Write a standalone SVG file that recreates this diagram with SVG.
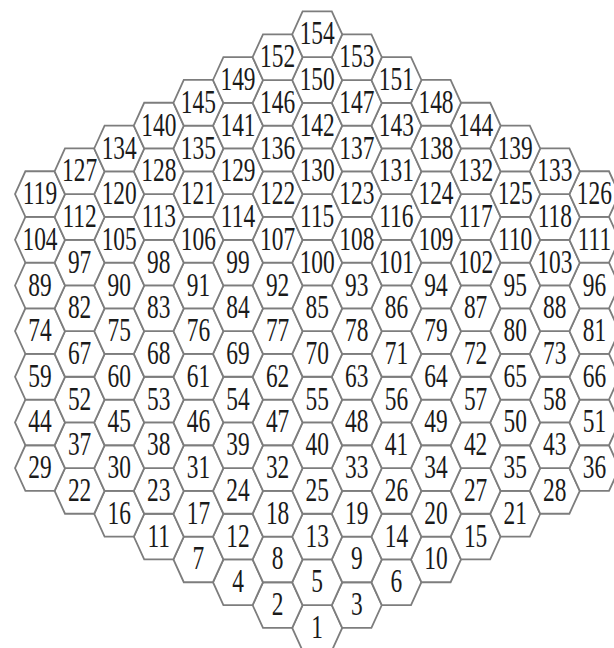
<svg xmlns="http://www.w3.org/2000/svg" xmlns:xlink="http://www.w3.org/1999/xlink" width="614" height="648" viewBox="0 0 614 648">
<style>
.hx{fill:#fff;stroke:#7d7d7d;stroke-width:1.8;stroke-linejoin:miter}
text{font-family:"Liberation Serif","Times New Roman",serif;font-size:33px;fill:#1a1a1a;text-anchor:middle;transform:scale(0.71,1)}
</style>
<defs>
<polygon id="hx" class="hx" points="-25,0 -14.6,-22.83 14.6,-22.83 25,0 14.6,22.83 -14.6,22.83"/>
</defs>
<rect width="614" height="648" fill="#fff"/>
<g id="nodes">
<g id="n1" transform="translate(317.2 627.9)"><use href="#hx"/><text y="10">1</text></g>
<g id="n2" transform="translate(277.6 605.1)"><use href="#hx"/><text y="10">2</text></g>
<g id="n3" transform="translate(356.8 605.1)"><use href="#hx"/><text y="10">3</text></g>
<g id="n4" transform="translate(238 582.2)"><use href="#hx"/><text y="10">4</text></g>
<g id="n5" transform="translate(317.2 582.2)"><use href="#hx"/><text y="10">5</text></g>
<g id="n6" transform="translate(396.4 582.2)"><use href="#hx"/><text y="10">6</text></g>
<g id="n7" transform="translate(198.4 559.4)"><use href="#hx"/><text y="10">7</text></g>
<g id="n8" transform="translate(277.6 559.4)"><use href="#hx"/><text y="10">8</text></g>
<g id="n9" transform="translate(356.8 559.4)"><use href="#hx"/><text y="10">9</text></g>
<g id="n10" transform="translate(436 559.4)"><use href="#hx"/><text y="10">10</text></g>
<g id="n11" transform="translate(158.8 536.6)"><use href="#hx"/><text y="10">11</text></g>
<g id="n12" transform="translate(238 536.6)"><use href="#hx"/><text y="10">12</text></g>
<g id="n13" transform="translate(317.2 536.6)"><use href="#hx"/><text y="10">13</text></g>
<g id="n14" transform="translate(396.4 536.6)"><use href="#hx"/><text y="10">14</text></g>
<g id="n15" transform="translate(475.6 536.6)"><use href="#hx"/><text y="10">15</text></g>
<g id="n16" transform="translate(119.2 513.8)"><use href="#hx"/><text y="10">16</text></g>
<g id="n17" transform="translate(198.4 513.8)"><use href="#hx"/><text y="10">17</text></g>
<g id="n18" transform="translate(277.6 513.8)"><use href="#hx"/><text y="10">18</text></g>
<g id="n19" transform="translate(356.8 513.8)"><use href="#hx"/><text y="10">19</text></g>
<g id="n20" transform="translate(436 513.8)"><use href="#hx"/><text y="10">20</text></g>
<g id="n21" transform="translate(515.2 513.8)"><use href="#hx"/><text y="10">21</text></g>
<g id="n22" transform="translate(79.6 490.9)"><use href="#hx"/><text y="10">22</text></g>
<g id="n23" transform="translate(158.8 490.9)"><use href="#hx"/><text y="10">23</text></g>
<g id="n24" transform="translate(238 490.9)"><use href="#hx"/><text y="10">24</text></g>
<g id="n25" transform="translate(317.2 490.9)"><use href="#hx"/><text y="10">25</text></g>
<g id="n26" transform="translate(396.4 490.9)"><use href="#hx"/><text y="10">26</text></g>
<g id="n27" transform="translate(475.6 490.9)"><use href="#hx"/><text y="10">27</text></g>
<g id="n28" transform="translate(554.8 490.9)"><use href="#hx"/><text y="10">28</text></g>
<g id="n29" transform="translate(40 468.1)"><use href="#hx"/><text y="10">29</text></g>
<g id="n30" transform="translate(119.2 468.1)"><use href="#hx"/><text y="10">30</text></g>
<g id="n31" transform="translate(198.4 468.1)"><use href="#hx"/><text y="10">31</text></g>
<g id="n32" transform="translate(277.6 468.1)"><use href="#hx"/><text y="10">32</text></g>
<g id="n33" transform="translate(356.8 468.1)"><use href="#hx"/><text y="10">33</text></g>
<g id="n34" transform="translate(436 468.1)"><use href="#hx"/><text y="10">34</text></g>
<g id="n35" transform="translate(515.2 468.1)"><use href="#hx"/><text y="10">35</text></g>
<g id="n36" transform="translate(594.4 468.1)"><use href="#hx"/><text y="10">36</text></g>
<g id="n37" transform="translate(79.6 445.3)"><use href="#hx"/><text y="10">37</text></g>
<g id="n38" transform="translate(158.8 445.3)"><use href="#hx"/><text y="10">38</text></g>
<g id="n39" transform="translate(238 445.3)"><use href="#hx"/><text y="10">39</text></g>
<g id="n40" transform="translate(317.2 445.3)"><use href="#hx"/><text y="10">40</text></g>
<g id="n41" transform="translate(396.4 445.3)"><use href="#hx"/><text y="10">41</text></g>
<g id="n42" transform="translate(475.6 445.3)"><use href="#hx"/><text y="10">42</text></g>
<g id="n43" transform="translate(554.8 445.3)"><use href="#hx"/><text y="10">43</text></g>
<g id="n44" transform="translate(40 422.4)"><use href="#hx"/><text y="10">44</text></g>
<g id="n45" transform="translate(119.2 422.4)"><use href="#hx"/><text y="10">45</text></g>
<g id="n46" transform="translate(198.4 422.4)"><use href="#hx"/><text y="10">46</text></g>
<g id="n47" transform="translate(277.6 422.4)"><use href="#hx"/><text y="10">47</text></g>
<g id="n48" transform="translate(356.8 422.4)"><use href="#hx"/><text y="10">48</text></g>
<g id="n49" transform="translate(436 422.4)"><use href="#hx"/><text y="10">49</text></g>
<g id="n50" transform="translate(515.2 422.4)"><use href="#hx"/><text y="10">50</text></g>
<g id="n51" transform="translate(594.4 422.4)"><use href="#hx"/><text y="10">51</text></g>
<g id="n52" transform="translate(79.6 399.6)"><use href="#hx"/><text y="10">52</text></g>
<g id="n53" transform="translate(158.8 399.6)"><use href="#hx"/><text y="10">53</text></g>
<g id="n54" transform="translate(238 399.6)"><use href="#hx"/><text y="10">54</text></g>
<g id="n55" transform="translate(317.2 399.6)"><use href="#hx"/><text y="10">55</text></g>
<g id="n56" transform="translate(396.4 399.6)"><use href="#hx"/><text y="10">56</text></g>
<g id="n57" transform="translate(475.6 399.6)"><use href="#hx"/><text y="10">57</text></g>
<g id="n58" transform="translate(554.8 399.6)"><use href="#hx"/><text y="10">58</text></g>
<g id="n59" transform="translate(40 376.8)"><use href="#hx"/><text y="10">59</text></g>
<g id="n60" transform="translate(119.2 376.8)"><use href="#hx"/><text y="10">60</text></g>
<g id="n61" transform="translate(198.4 376.8)"><use href="#hx"/><text y="10">61</text></g>
<g id="n62" transform="translate(277.6 376.8)"><use href="#hx"/><text y="10">62</text></g>
<g id="n63" transform="translate(356.8 376.8)"><use href="#hx"/><text y="10">63</text></g>
<g id="n64" transform="translate(436 376.8)"><use href="#hx"/><text y="10">64</text></g>
<g id="n65" transform="translate(515.2 376.8)"><use href="#hx"/><text y="10">65</text></g>
<g id="n66" transform="translate(594.4 376.8)"><use href="#hx"/><text y="10">66</text></g>
<g id="n67" transform="translate(79.6 353.9)"><use href="#hx"/><text y="10">67</text></g>
<g id="n68" transform="translate(158.8 353.9)"><use href="#hx"/><text y="10">68</text></g>
<g id="n69" transform="translate(238 353.9)"><use href="#hx"/><text y="10">69</text></g>
<g id="n70" transform="translate(317.2 353.9)"><use href="#hx"/><text y="10">70</text></g>
<g id="n71" transform="translate(396.4 353.9)"><use href="#hx"/><text y="10">71</text></g>
<g id="n72" transform="translate(475.6 353.9)"><use href="#hx"/><text y="10">72</text></g>
<g id="n73" transform="translate(554.8 353.9)"><use href="#hx"/><text y="10">73</text></g>
<g id="n74" transform="translate(40 331.1)"><use href="#hx"/><text y="10">74</text></g>
<g id="n75" transform="translate(119.2 331.1)"><use href="#hx"/><text y="10">75</text></g>
<g id="n76" transform="translate(198.4 331.1)"><use href="#hx"/><text y="10">76</text></g>
<g id="n77" transform="translate(277.6 331.1)"><use href="#hx"/><text y="10">77</text></g>
<g id="n78" transform="translate(356.8 331.1)"><use href="#hx"/><text y="10">78</text></g>
<g id="n79" transform="translate(436 331.1)"><use href="#hx"/><text y="10">79</text></g>
<g id="n80" transform="translate(515.2 331.1)"><use href="#hx"/><text y="10">80</text></g>
<g id="n81" transform="translate(594.4 331.1)"><use href="#hx"/><text y="10">81</text></g>
<g id="n82" transform="translate(79.6 308.3)"><use href="#hx"/><text y="10">82</text></g>
<g id="n83" transform="translate(158.8 308.3)"><use href="#hx"/><text y="10">83</text></g>
<g id="n84" transform="translate(238 308.3)"><use href="#hx"/><text y="10">84</text></g>
<g id="n85" transform="translate(317.2 308.3)"><use href="#hx"/><text y="10">85</text></g>
<g id="n86" transform="translate(396.4 308.3)"><use href="#hx"/><text y="10">86</text></g>
<g id="n87" transform="translate(475.6 308.3)"><use href="#hx"/><text y="10">87</text></g>
<g id="n88" transform="translate(554.8 308.3)"><use href="#hx"/><text y="10">88</text></g>
<g id="n89" transform="translate(40 285.5)"><use href="#hx"/><text y="10">89</text></g>
<g id="n90" transform="translate(119.2 285.5)"><use href="#hx"/><text y="10">90</text></g>
<g id="n91" transform="translate(198.4 285.5)"><use href="#hx"/><text y="10">91</text></g>
<g id="n92" transform="translate(277.6 285.5)"><use href="#hx"/><text y="10">92</text></g>
<g id="n93" transform="translate(356.8 285.5)"><use href="#hx"/><text y="10">93</text></g>
<g id="n94" transform="translate(436 285.5)"><use href="#hx"/><text y="10">94</text></g>
<g id="n95" transform="translate(515.2 285.5)"><use href="#hx"/><text y="10">95</text></g>
<g id="n96" transform="translate(594.4 285.5)"><use href="#hx"/><text y="10">96</text></g>
<g id="n97" transform="translate(79.6 262.6)"><use href="#hx"/><text y="10">97</text></g>
<g id="n98" transform="translate(158.8 262.6)"><use href="#hx"/><text y="10">98</text></g>
<g id="n99" transform="translate(238 262.6)"><use href="#hx"/><text y="10">99</text></g>
<g id="n100" transform="translate(317.2 262.6)"><use href="#hx"/><text y="10">100</text></g>
<g id="n101" transform="translate(396.4 262.6)"><use href="#hx"/><text y="10">101</text></g>
<g id="n102" transform="translate(475.6 262.6)"><use href="#hx"/><text y="10">102</text></g>
<g id="n103" transform="translate(554.8 262.6)"><use href="#hx"/><text y="10">103</text></g>
<g id="n104" transform="translate(40 239.8)"><use href="#hx"/><text y="10">104</text></g>
<g id="n105" transform="translate(119.2 239.8)"><use href="#hx"/><text y="10">105</text></g>
<g id="n106" transform="translate(198.4 239.8)"><use href="#hx"/><text y="10">106</text></g>
<g id="n107" transform="translate(277.6 239.8)"><use href="#hx"/><text y="10">107</text></g>
<g id="n108" transform="translate(356.8 239.8)"><use href="#hx"/><text y="10">108</text></g>
<g id="n109" transform="translate(436 239.8)"><use href="#hx"/><text y="10">109</text></g>
<g id="n110" transform="translate(515.2 239.8)"><use href="#hx"/><text y="10">110</text></g>
<g id="n111" transform="translate(594.4 239.8)"><use href="#hx"/><text y="10">111</text></g>
<g id="n112" transform="translate(79.6 217)"><use href="#hx"/><text y="10">112</text></g>
<g id="n113" transform="translate(158.8 217)"><use href="#hx"/><text y="10">113</text></g>
<g id="n114" transform="translate(238 217)"><use href="#hx"/><text y="10">114</text></g>
<g id="n115" transform="translate(317.2 217)"><use href="#hx"/><text y="10">115</text></g>
<g id="n116" transform="translate(396.4 217)"><use href="#hx"/><text y="10">116</text></g>
<g id="n117" transform="translate(475.6 217)"><use href="#hx"/><text y="10">117</text></g>
<g id="n118" transform="translate(554.8 217)"><use href="#hx"/><text y="10">118</text></g>
<g id="n119" transform="translate(40 194.1)"><use href="#hx"/><text y="10">119</text></g>
<g id="n120" transform="translate(119.2 194.1)"><use href="#hx"/><text y="10">120</text></g>
<g id="n121" transform="translate(198.4 194.1)"><use href="#hx"/><text y="10">121</text></g>
<g id="n122" transform="translate(277.6 194.1)"><use href="#hx"/><text y="10">122</text></g>
<g id="n123" transform="translate(356.8 194.1)"><use href="#hx"/><text y="10">123</text></g>
<g id="n124" transform="translate(436 194.1)"><use href="#hx"/><text y="10">124</text></g>
<g id="n125" transform="translate(515.2 194.1)"><use href="#hx"/><text y="10">125</text></g>
<g id="n126" transform="translate(594.4 194.1)"><use href="#hx"/><text y="10">126</text></g>
<g id="n127" transform="translate(79.6 171.3)"><use href="#hx"/><text y="10">127</text></g>
<g id="n128" transform="translate(158.8 171.3)"><use href="#hx"/><text y="10">128</text></g>
<g id="n129" transform="translate(238 171.3)"><use href="#hx"/><text y="10">129</text></g>
<g id="n130" transform="translate(317.2 171.3)"><use href="#hx"/><text y="10">130</text></g>
<g id="n131" transform="translate(396.4 171.3)"><use href="#hx"/><text y="10">131</text></g>
<g id="n132" transform="translate(475.6 171.3)"><use href="#hx"/><text y="10">132</text></g>
<g id="n133" transform="translate(554.8 171.3)"><use href="#hx"/><text y="10">133</text></g>
<g id="n134" transform="translate(119.2 148.5)"><use href="#hx"/><text y="10">134</text></g>
<g id="n135" transform="translate(198.4 148.5)"><use href="#hx"/><text y="10">135</text></g>
<g id="n136" transform="translate(277.6 148.5)"><use href="#hx"/><text y="10">136</text></g>
<g id="n137" transform="translate(356.8 148.5)"><use href="#hx"/><text y="10">137</text></g>
<g id="n138" transform="translate(436 148.5)"><use href="#hx"/><text y="10">138</text></g>
<g id="n139" transform="translate(515.2 148.5)"><use href="#hx"/><text y="10">139</text></g>
<g id="n140" transform="translate(158.8 125.6)"><use href="#hx"/><text y="10">140</text></g>
<g id="n141" transform="translate(238 125.6)"><use href="#hx"/><text y="10">141</text></g>
<g id="n142" transform="translate(317.2 125.6)"><use href="#hx"/><text y="10">142</text></g>
<g id="n143" transform="translate(396.4 125.6)"><use href="#hx"/><text y="10">143</text></g>
<g id="n144" transform="translate(475.6 125.6)"><use href="#hx"/><text y="10">144</text></g>
<g id="n145" transform="translate(198.4 102.8)"><use href="#hx"/><text y="10">145</text></g>
<g id="n146" transform="translate(277.6 102.8)"><use href="#hx"/><text y="10">146</text></g>
<g id="n147" transform="translate(356.8 102.8)"><use href="#hx"/><text y="10">147</text></g>
<g id="n148" transform="translate(436 102.8)"><use href="#hx"/><text y="10">148</text></g>
<g id="n149" transform="translate(238 80)"><use href="#hx"/><text y="10">149</text></g>
<g id="n150" transform="translate(317.2 80)"><use href="#hx"/><text y="10">150</text></g>
<g id="n151" transform="translate(396.4 80)"><use href="#hx"/><text y="10">151</text></g>
<g id="n152" transform="translate(277.6 57.2)"><use href="#hx"/><text y="10">152</text></g>
<g id="n153" transform="translate(356.8 57.2)"><use href="#hx"/><text y="10">153</text></g>
<g id="n154" transform="translate(317.2 34.3)"><use href="#hx"/><text y="10">154</text></g>
</g>
</svg>
